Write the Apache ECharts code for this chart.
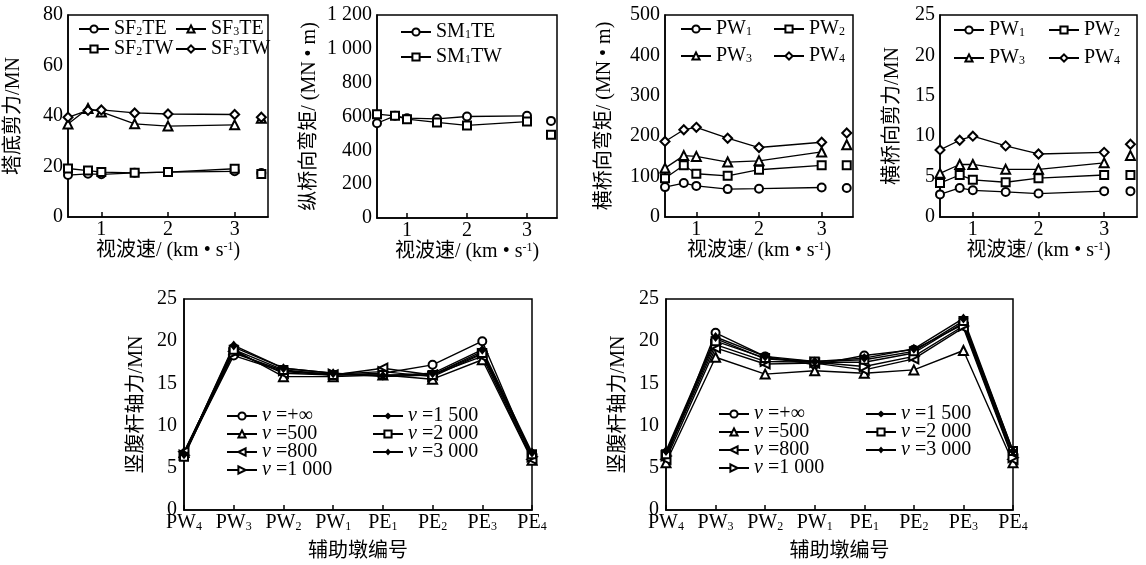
<!DOCTYPE html>
<html>
<head>
<meta charset="utf-8">
<script src="https://cdn.jsdelivr.net/npm/echarts@6/dist/echarts.min.js"></script>
<style>
  html, body { margin: 0; padding: 0; background: #fff; }
  #chart { width: 1146px; height: 565px; }
</style>
</head>
<body>
<div id="chart"></div>
<script>
// 视波速 (km/s)，最后一个值为 v=+∞，画在 rigidPos 处
const waveSpeed = [0.5, 0.8, 1, 1.5, 2, 3]
const rigidPos = 3.4

// 塔底剪力/MN（前 6 个对应 waveSpeed，最后 1 个为 +∞）
const sf2te = [16.6, 17.1, 16.9, 17.5, 17.8, 18.1, 17.4]
const sf2tw = [19.2, 18.4, 17.8, 17.5, 17.8, 19.1, 17.0]
const sf3te = [36.8, 43.0, 41.6, 36.9, 36.0, 36.5, 39.1]
const sf3tw = [39.5, 42.2, 42.4, 41.2, 40.8, 40.6, 39.5]

// 纵桥向弯矩/(MN·m)
const sm1te = [560, 604, 590, 586, 600, 604, 574]
const sm1tw = [614, 604, 584, 565, 547, 570, 492]

// 横桥向弯矩/(MN·m)
const pwMoment1 = [74, 84, 77, 69, 70, 73, 72]
const pwMoment2 = [96, 128, 107, 102, 117, 128, 128]
const pwMoment3 = [121, 152, 150, 136, 139, 161, 179]
const pwMoment4 = [187, 216, 222, 195, 172, 185, 208]

// 横桥向剪力/MN
const pwShear1 = [2.8, 3.6, 3.3, 3.1, 2.9, 3.2, 3.2]
const pwShear2 = [4.2, 5.2, 4.6, 4.3, 4.8, 5.2, 5.2]
const pwShear3 = [5.4, 6.5, 6.5, 5.9, 5.9, 6.7, 7.6]
const pwShear4 = [8.3, 9.5, 10.0, 8.8, 7.8, 8.0, 9.0]

// 辅助墩编号
const piers = ['PW4', 'PW3', 'PW2', 'PW1', 'PE1', 'PE2', 'PE3', 'PE4']
const speedNames = ['+∞', '500', '800', '1 000', '1 500', '2 000', '3 000']

// 竖腹杆轴力/MN（左图）
const axialA = [
  [6.6, 18.3, 16.4, 16.0, 16.2, 17.2, 20.0, 6.2],
  [6.8, 19.0, 15.8, 15.8, 16.0, 15.5, 17.8, 5.9],
  [6.9, 18.8, 16.2, 16.0, 16.8, 16.0, 18.2, 6.0],
  [6.5, 18.6, 16.5, 16.1, 16.4, 15.8, 18.5, 6.3],
  [6.7, 19.3, 16.8, 16.2, 15.8, 16.0, 18.8, 6.5],
  [6.3, 19.0, 16.6, 16.0, 16.0, 16.0, 18.6, 6.6],
  [6.6, 19.5, 16.8, 16.2, 15.9, 16.2, 19.0, 6.8]
]
// 竖腹杆轴力/MN（右图）
const axialB = [
  [6.2, 21.0, 18.2, 17.2, 18.3, 19.0, 22.0, 6.5],
  [5.6, 18.1, 16.1, 16.5, 16.2, 16.6, 18.9, 5.6],
  [6.0, 19.2, 17.3, 17.4, 16.6, 17.9, 21.6, 6.0],
  [6.4, 19.6, 17.6, 17.5, 17.0, 18.2, 21.8, 6.2],
  [6.8, 20.3, 17.9, 17.5, 17.5, 18.6, 22.2, 6.8],
  [6.6, 20.0, 18.0, 17.6, 17.8, 18.8, 22.4, 7.0],
  [7.0, 20.5, 18.2, 17.6, 18.0, 19.1, 22.7, 7.0]
]

const FONT = '"Liberation Serif", "Noto Sans CJK SC", serif'
const star = 'path://M0,-10 L4.5,-4.5 L10,0 L4.5,4.5 L0,10 L-4.5,4.5 L-10,0 L-4.5,-4.5 Z'

const markers = {
  circle: { symbol: 'emptyCircle', symbolSize: 8 },
  square: { symbol: 'emptyRect', symbolSize: 8 },
  triangle: { symbol: 'emptyTriangle', symbolSize: 9 },
  diamond: { symbol: 'emptyDiamond', symbolSize: 9 }
}
const speedMarkers = [
  { symbol: 'emptyCircle', symbolSize: 8 },
  { symbol: 'emptyTriangle', symbolSize: 9 },
  { symbol: 'emptyTriangle', symbolSize: 9, symbolRotate: 90 },
  { symbol: 'emptyTriangle', symbolSize: 9, symbolRotate: -90 },
  { symbol: 'diamond', symbolSize: 5 },
  { symbol: 'emptyRect', symbolSize: 8 },
  { symbol: star, symbolSize: 10 }
]

const rich = {
  s: { fontSize: 12, fontFamily: FONT, color: '#000', lineHeight: 10, verticalAlign: 'bottom' },
  sup: { fontSize: 12, fontFamily: FONT, color: '#000', lineHeight: 10, verticalAlign: 'top' },
  i: { fontSize: 20, fontFamily: FONT, fontStyle: 'italic', color: '#000', lineHeight: 18 }
}

// 'SF2TE' -> 'SF{s|2}TE'
const subName = name => name.replace(/(\d)/, '{s|$1}')

const grids = [
  { left: 68, top: 15, width: 200, height: 202 },
  { left: 377, top: 15, width: 180, height: 203 },
  { left: 665, top: 15, width: 188, height: 202 },
  { left: 940, top: 15, width: 197, height: 202 },
  { left: 184, top: 299, width: 348, height: 211 },
  { left: 666, top: 299, width: 347, height: 211 }
].map(g => Object.assign({ show: true, borderColor: '#000', borderWidth: 1.5 }, g))

const axisLine = { show: true, lineStyle: { color: '#000', width: 1.5 } }
const labelStyle = { color: '#000', fontFamily: FONT, fontSize: 20 }
const nameStyle = { color: '#000', fontFamily: FONT, fontSize: 20, rich }

const xAxis = []
const yAxis = []
for (let i = 0; i < 4; i++) {
  xAxis.push({
    type: 'value', gridIndex: i, min: 0.5, max: 3.5,
    axisLine,
    axisTick: { show: true, inside: true, length: 5, customValues: [1, 2, 3], lineStyle: { color: '#000', width: 1.5 } },
    axisLabel: Object.assign({ margin: 3, customValues: [1, 2, 3] }, labelStyle),
    splitLine: { show: false },
    name: '视波速/ (km • s{sup|-1})', nameLocation: 'middle', nameGap: 21,
    nameTextStyle: nameStyle
  })
}
const yCfg = [
  { max: 80, interval: 20, name: '塔底剪力/MN', nameGap: 44 },
  { max: 1200, interval: 200, name: '纵桥向弯矩/ (MN • m)', nameGap: 57 },
  { max: 500, interval: 100, name: '横桥向弯矩/ (MN • m)', nameGap: 50 },
  { max: 25, interval: 5, name: '横桥向剪力/MN', nameGap: 37 },
  { max: 25, interval: 5, name: '竖腹杆轴力/MN', nameGap: 37 },
  { max: 25, interval: 5, name: '竖腹杆轴力/MN', nameGap: 37 }
]
yCfg.forEach((c, i) => {
  yAxis.push({
    type: 'value', gridIndex: i, min: 0, max: c.max, interval: c.interval,
    axisLine, axisTick: { show: false },
    axisLabel: Object.assign({
      margin: i >= 4 ? 7 : 5,
      formatter: v => v >= 1000 ? String(v).replace(/(\d)(\d{3})$/, '$1 $2') : String(v)
    }, labelStyle),
    splitLine: { show: false },
    name: c.name, nameLocation: 'middle', nameRotate: 90, nameGap: c.nameGap,
    nameTextStyle: nameStyle
  })
})
for (let i = 4; i < 6; i++) {
  xAxis.push({
    type: 'category', gridIndex: i, data: piers, boundaryGap: false,
    axisLine,
    axisTick: { show: true, inside: true, length: 5, lineStyle: { color: '#000', width: 1.5 } },
    axisLabel: Object.assign({ margin: 3, formatter: subName, rich, interval: 0 }, labelStyle),
    name: '辅助墩编号', nameLocation: 'middle', nameGap: 32,
    nameTextStyle: nameStyle
  })
}

const series = []
function addSpeedSeries(axisIdx, name, values, marker) {
  const base = Object.assign({
    name, xAxisIndex: axisIdx, yAxisIndex: axisIdx,
    itemStyle: { color: '#000', borderWidth: 1.2, opacity: 1 },
    z: 3
  }, marker)
  series.push(Object.assign({}, base, {
    type: 'line',
    data: waveSpeed.map((x, k) => [x, values[k]]),
    lineStyle: { color: '#000', width: 1.3 }
  }))
  series.push(Object.assign({}, base, {
    type: 'scatter',
    data: [[rigidPos, values[waveSpeed.length]]]
  }))
}

addSpeedSeries(0, 'SF2TE', sf2te, markers.circle)
addSpeedSeries(0, 'SF2TW', sf2tw, markers.square)
addSpeedSeries(0, 'SF3TE', sf3te, markers.triangle)
addSpeedSeries(0, 'SF3TW', sf3tw, markers.diamond)
addSpeedSeries(1, 'SM1TE', sm1te, markers.circle)
addSpeedSeries(1, 'SM1TW', sm1tw, markers.square)
addSpeedSeries(2, 'PW1', pwMoment1, markers.circle)
addSpeedSeries(2, 'PW2', pwMoment2, markers.square)
addSpeedSeries(2, 'PW3', pwMoment3, markers.triangle)
addSpeedSeries(2, 'PW4', pwMoment4, markers.diamond)
addSpeedSeries(3, 'PW1', pwShear1, markers.circle)
addSpeedSeries(3, 'PW2', pwShear2, markers.square)
addSpeedSeries(3, 'PW3', pwShear3, markers.triangle)
addSpeedSeries(3, 'PW4', pwShear4, markers.diamond)

;[axialA, axialB].forEach((set, g) => {
  set.forEach((values, k) => {
    series.push(Object.assign({
      name: speedNames[k], type: 'line',
      xAxisIndex: 4 + g, yAxisIndex: 4 + g,
      data: values,
      itemStyle: { color: '#000', borderWidth: 1.2 },
      lineStyle: { color: '#000', width: 1.4 }
    }, speedMarkers[k]))
  })
})

function legendCol(left, top, data, itemGap, fmt, fontSize) {
  return {
    orient: 'vertical', left, top, data, itemGap,
    padding: 0,
    itemWidth: 30, itemHeight: 9,
    selectedMode: false,
    formatter: fmt,
    textStyle: { color: '#000', fontFamily: FONT, fontSize, lineHeight: 18, rich }
  }
}
const speedFmt = name => '{i|v} =' + name

const legend = [
  legendCol(78, 19, ['SF2TE', 'SF2TW'], 0, subName, 20),
  legendCol(175, 19, ['SF3TE', 'SF3TW'], 0, subName, 20),
  legendCol(400, 22, ['SM1TE', 'SM1TW'], 5, subName, 20),
  legendCol(680, 19, ['PW1', 'PW3'], 7, subName, 20),
  legendCol(773, 19, ['PW2', 'PW4'], 7, subName, 20),
  legendCol(953, 20, ['PW1', 'PW3'], 8, subName, 20),
  legendCol(1048, 20, ['PW2', 'PW4'], 8, subName, 20),
  legendCol(226, 406, speedNames.slice(0, 4), -2, speedFmt, 20),
  legendCol(372, 406, speedNames.slice(4), -2, speedFmt, 20),
  legendCol(718, 404, speedNames.slice(0, 4), -2, speedFmt, 20),
  legendCol(865, 404, speedNames.slice(4), -2, speedFmt, 20)
]

const chart = echarts.init(document.getElementById('chart'))
chart.setOption({
  animation: false,
  backgroundColor: '#fff',
  grid: grids,
  xAxis,
  yAxis,
  legend,
  series
})
</script>
</body>
</html>
